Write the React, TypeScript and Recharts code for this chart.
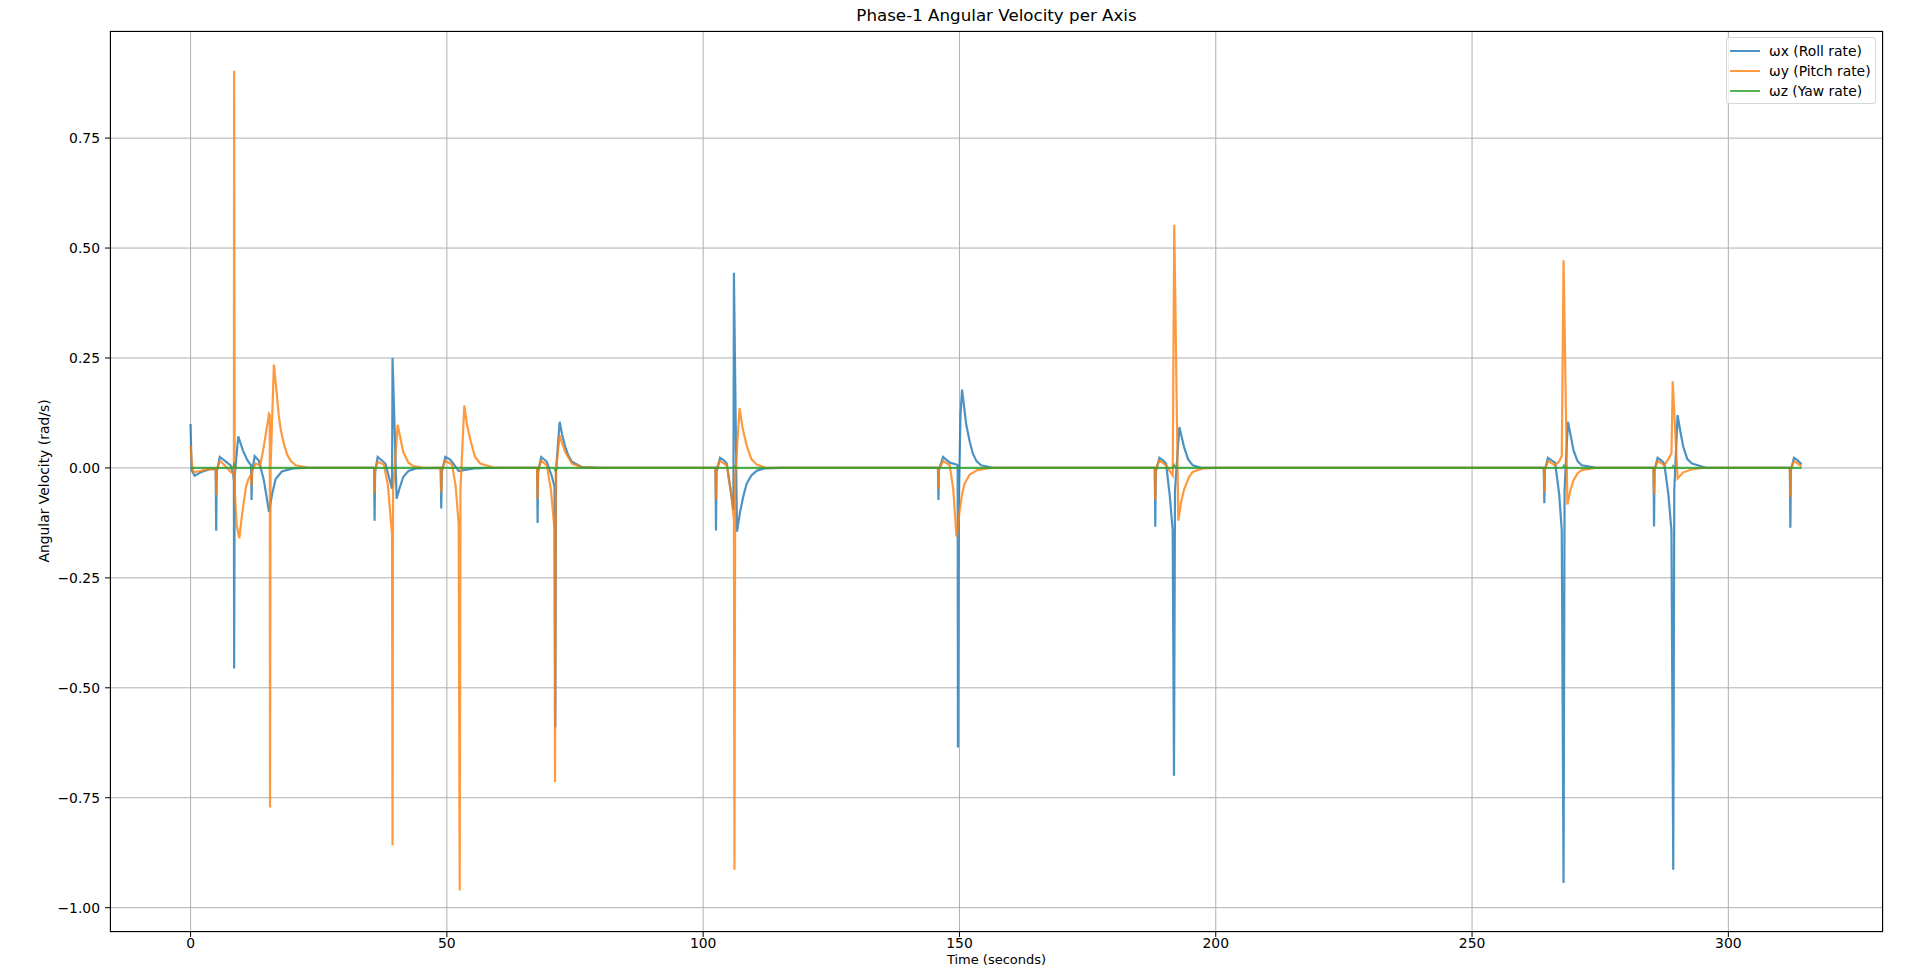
import { LineChart, Line, XAxis, YAxis, CartesianGrid } from 'recharts';

// ωx (roll) samples: time (s) and rate (rad/s)
const rollTime = [
  0, 0.2, 0.8, 2, 4, 4.9, 5.0, 5.1, 5.7, 6.5, 7.8, 8.3, 8.45, 8.5, 8.6, 9.3, 10.2, 11.1, 11.8, 11.9, 12.0,
  12.5, 13.3, 14.3, 15.3, 15.9, 16.6, 17.8, 20, 22,
  35.8, 35.9, 36.0, 36.5, 37.2, 38.0, 39.3, 39.4, 40.2, 40.8, 41.5, 42.5, 44,
  48.8, 48.9, 49.0, 49.7, 50.5, 51.0, 52.0, 52.3, 53.3, 55.3, 58,
  67.6, 67.7, 67.8, 68.4, 69.5, 70.5, 71.0, 71.15, 71.3, 72.0, 72.5, 73.1, 73.7, 74.4, 76.3, 80,
  102.4, 102.5, 102.6, 103.3, 104.0, 104.6, 105.9, 106.0, 106.6, 107.2, 107.8, 108.5, 109.4, 110.5, 112, 115,
  145.8, 145.9, 146.0, 146.8, 148.1, 149.4, 149.65, 149.7, 149.85, 150.2, 150.5, 150.9, 151.3, 152.0, 152.6, 153.3, 154.2, 156.2, 160,
  188.1, 188.2, 188.3, 189.0, 189.7, 190.3, 191.0, 191.6, 191.85, 192.05, 192.9, 193.8, 194.6, 195.5, 197, 200,
  264.0, 264.1, 264.2, 264.8, 265.5, 266.2, 267.0, 267.5, 267.85, 268.05, 268.7, 269.3, 269.8, 270.6, 271.4, 274, 276,
  285.4, 285.5, 285.6, 286.2, 286.9, 287.5, 288.3, 288.9, 289.25, 289.45, 290.1, 290.6, 291.2, 292.0, 292.9, 295.5, 298,
  312.0, 312.1, 312.2, 312.8, 313.5, 314.3,
];
const rollRate = [
  0.1, -0.005, -0.018, -0.01, -0.002, -0.003, -0.143, -0.01, 0.025, 0.018, 0.006, -0.013, -0.03, -0.456, -0.02, 0.072, 0.04, 0.017, 0.006, -0.073, -0.01,
  0.027, 0.017, -0.028, -0.1, -0.06, -0.025, -0.008, -0.001, 0,
  0, -0.12, -0.01, 0.025, 0.018, 0.01, -0.047, 0.25, -0.07, -0.045, -0.02, -0.007, -0.001,
  0, -0.092, -0.01, 0.025, 0.02, 0.014, -0.002, -0.007, -0.005, -0.001, 0,
  0, -0.125, -0.01, 0.025, 0.014, -0.02, -0.043, -0.59, -0.005, 0.105, 0.075, 0.048, 0.028, 0.014, 0.002, 0,
  0, -0.142, -0.01, 0.023, 0.018, 0.01, -0.096, 0.444, -0.145, -0.1, -0.066, -0.035, -0.017, -0.006, -0.001, 0,
  0, -0.073, -0.005, 0.025, 0.012, 0.008, 0.006, -0.636, -0.1, 0.12, 0.178, 0.14, 0.1, 0.06, 0.033, 0.016, 0.006, 0.001, 0,
  0, -0.134, -0.01, 0.023, 0.017, 0.01, -0.06, -0.142, -0.7, -0.05, 0.093, 0.048, 0.02, 0.006, 0.001, 0,
  0, -0.08, -0.005, 0.023, 0.017, 0.012, -0.06, -0.142, -0.944, -0.05, 0.105, 0.07, 0.04, 0.015, 0.006, 0.001, 0,
  0, -0.133, -0.005, 0.023, 0.017, 0.01, -0.06, -0.142, -0.914, -0.05, 0.12, 0.085, 0.048, 0.02, 0.01, 0.001, 0,
  0, -0.136, -0.005, 0.023, 0.017, 0.008,
];

// ωy (pitch)
const pitchTime = [
  0, 0.3, 0.6, 1.5, 3, 4.9, 5.0, 5.1, 5.7, 6.5, 7.8, 8.3, 8.45, 8.5, 8.6, 9.0, 9.5, 10.0, 10.8, 11.3, 11.8, 11.9, 12.0,
  12.7, 13.6, 14.3, 15.3, 15.45, 15.5, 15.6, 16.25, 16.8, 17.2, 17.6, 18.3, 18.9, 19.6, 20.5, 22.8, 25,
  35.8, 35.9, 36.0, 36.5, 37.7, 38.5, 39.0, 39.3, 39.4, 39.5, 40.4, 40.9, 41.5, 42.5, 43.5, 45.5,
  48.8, 48.9, 49.0, 49.7, 51.0, 51.7, 52.3, 52.5, 52.65, 53.4, 53.9, 54.6, 55.5, 56.5, 59.1, 61,
  67.6, 67.7, 67.8, 68.4, 69.5, 70.3, 71.0, 71.1, 71.25, 72.0, 72.5, 73.1, 74.4, 76.3, 79,
  102.4, 102.5, 102.6, 103.2, 104.6, 105.5, 106.0, 106.1, 106.25, 107.1, 107.7, 108.5, 109.4, 110.4, 112, 114,
  145.8, 145.9, 146.0, 146.8, 148.1, 148.8, 149.4, 149.5, 150.0, 150.5, 151.0, 152, 153.5, 156,
  188.1, 188.2, 188.3, 189.0, 190.3, 191.2, 191.6, 191.9, 192.7, 193.2, 193.8, 194.8, 195.5, 197.5, 200,
  264.0, 264.1, 264.2, 264.8, 266.2, 267.0, 267.5, 267.85, 268.6, 269.2, 269.8, 270.6, 271.4, 274,
  285.4, 285.5, 285.6, 286.2, 287.5, 288.3, 288.9, 289.15, 290.1, 291.2, 292.9, 295,
  312.0, 312.1, 312.2, 312.8, 313.5, 314.3,
];
const pitchRate = [
  0.05, 0.002, -0.01, -0.008, -0.004, -0.002, -0.062, -0.005, 0.016, 0.008, -0.009, -0.013, -0.015, 0.903, -0.05, -0.13, -0.16, -0.11, -0.043, -0.025, -0.015, -0.04, -0.005,
  0.01, 0.006, 0.05, 0.123, 0.12, -0.772, 0.0, 0.235, 0.17, 0.12, 0.086, 0.05, 0.029, 0.015, 0.006, 0.001, 0,
  0, -0.058, -0.003, 0.014, 0.008, -0.04, -0.11, -0.15, -0.858, -0.05, 0.098, 0.07, 0.036, 0.012, 0.004, 0,
  0, -0.056, -0.003, 0.016, 0.008, -0.04, -0.127, -0.961, -0.05, 0.142, 0.1, 0.063, 0.025, 0.01, 0.001, 0,
  0, -0.07, -0.003, 0.016, 0.006, -0.05, -0.14, -0.714, -0.01, 0.074, 0.055, 0.036, 0.01, 0.002, 0,
  0, -0.072, -0.003, 0.016, 0.006, -0.06, -0.119, -0.914, -0.02, 0.136, 0.09, 0.05, 0.02, 0.008, 0.001, 0,
  0, -0.047, -0.003, 0.016, 0.006, -0.05, -0.153, -0.155, -0.1, -0.06, -0.036, -0.015, -0.005, 0,
  0, -0.073, -0.003, 0.017, 0.006, -0.01, -0.017, 0.553, -0.12, -0.08, -0.05, -0.02, -0.009, -0.001, 0,
  0, -0.055, -0.003, 0.016, 0.006, 0.015, 0.027, 0.472, -0.083, -0.05, -0.028, -0.012, -0.005, 0,
  0, -0.06, -0.003, 0.016, 0.006, 0.02, 0.033, 0.197, -0.024, -0.01, -0.003, 0,
  0, -0.066, -0.003, 0.016, 0.01, 0.004,
];

// ωz (yaw)
const yawTime = [0, 8.3, 8.5, 8.8, 70.9, 71.2, 71.5, 105.9, 106.1, 106.3, 191.7, 191.9, 192.2, 267.7, 267.9, 268.2, 289.0, 289.2, 289.4, 314.3];
const yawRate = [0, 0, 0.008, 0, 0, -0.006, 0, 0, 0.003, 0, 0, 0.006, 0, 0, 0.005, 0, 0, 0.004, 0, 0];

const xTicks = [0, 50, 100, 150, 200, 250, 300];
const yTicks = [-1, -0.75, -0.5, -0.25, 0, 0.25, 0.5, 0.75];

const toPoints = (t: number[], v: number[]) => t.map((x, i) => ({ t: x, v: v[i] }));

const series = [
  { name: 'ωx (Roll rate)', color: '#1f77b4', data: toPoints(rollTime, rollRate) },
  { name: 'ωy (Pitch rate)', color: '#ff7f0e', data: toPoints(pitchTime, pitchRate) },
  { name: 'ωz (Yaw rate)', color: '#2ca02c', data: toPoints(yawTime, yawRate) },
];

const font = '"DejaVu Sans", sans-serif';
const fmt = (v: number) => v.toFixed(2).replace('-', '\u2212');

export default function App() {
  return (
    <div style={{ position: 'absolute', top: 0, left: 0, width: 1920, height: 967, background: '#fff', fontFamily: font, overflow: 'hidden' }}>
      <LineChart width={1920} height={967} margin={{ top: 31, right: 37, bottom: 0, left: 50 }}>
        <CartesianGrid stroke="#b0b0b0" strokeWidth={1} />
        <XAxis
          dataKey="t"
          type="number"
          domain={[-15.72, 330.17]}
          ticks={xTicks}
          height={35}
          axisLine={false}
          tickLine={{ stroke: '#000' }}
          tickSize={5}
          tickMargin={1}
          tick={{ fill: '#000', fontSize: 13.9, fontFamily: font }}
        />
        <YAxis
          type="number"
          domain={[-1.0553, 0.9936]}
          ticks={yTicks}
          width={60}
          axisLine={false}
          tickLine={{ stroke: '#000' }}
          tickSize={5}
          tickMargin={5}
          tickFormatter={fmt}
          tick={{ fill: '#000', fontSize: 13.9, fontFamily: font }}
        />
        {series.map((s) => (
          <Line
            key={s.name}
            data={s.data}
            dataKey="v"
            name={s.name}
            type="linear"
            stroke={s.color}
            strokeOpacity={0.8}
            strokeWidth={2.2}
            dot={false}
            isAnimationActive={false}
          />
        ))}
      </LineChart>

      {/* axes frame */}
      <div style={{ position: 'absolute', left: 110, top: 31, width: 1773, height: 901, border: '1px solid #000', boxSizing: 'border-box', pointerEvents: 'none' }} />

      <div style={{ position: 'absolute', left: 110, width: 1773, top: 5, textAlign: 'center', fontSize: 16.7 }}>
        Phase-1 Angular Velocity per Axis
      </div>
      <div style={{ position: 'absolute', left: 110, width: 1773, top: 953, textAlign: 'center', fontSize: 13, lineHeight: '14px' }}>
        Time (seconds)
      </div>
      <div style={{ position: 'absolute', left: 44, top: 481, transform: 'translate(-50%, -50%) rotate(-90deg)', whiteSpace: 'nowrap', fontSize: 13.9 }}>
        Angular Velocity (rad/s)
      </div>

      <div style={{ position: 'absolute', left: 1726, top: 37, width: 150, height: 67, border: '1px solid #d6d6d6', borderRadius: 3, background: 'rgba(255,255,255,0.8)', boxSizing: 'border-box', padding: '3px 0 0 3px', fontSize: 13.9 }}>
        {series.map((s) => (
          <div key={s.name} style={{ display: 'flex', alignItems: 'center', height: 20 }}>
            <div style={{ width: 30, height: 2.2, background: s.color, opacity: 0.8, marginRight: 9 }} />
            <span>{s.name}</span>
          </div>
        ))}
      </div>
    </div>
  );
}
